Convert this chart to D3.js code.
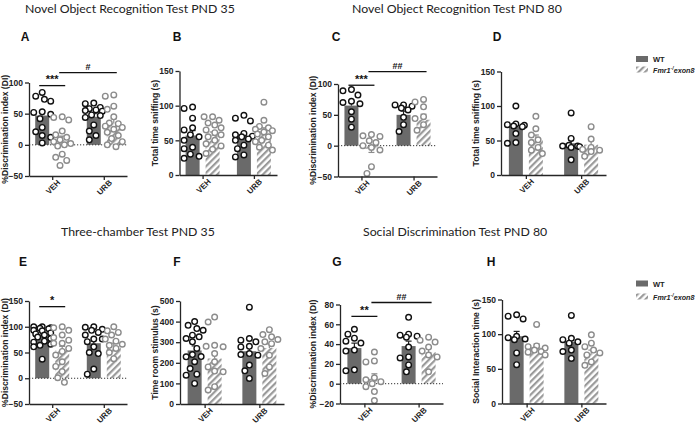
<!DOCTYPE html>
<html>
<head>
<meta charset="utf-8">
<script src="https://cdn.jsdelivr.net/npm/d3@7"></script>
<style>
  body { margin: 0; background: #fff; }
  svg text { font-family: "Liberation Sans", Arial, sans-serif; }
</style>
</head>
<body>
<svg id="chart" width="697" height="428"></svg>
<script>
// groups / genotypes
var groups = ["VEH", "URB"];
var genotypes = ["WT", "KO"];

// tick labels
var ticksDI = [-50, 0, 50, 100];
var ticksSniff = [0, 50, 100, 150];
var ticksDIE = [-50, 0, 50, 100, 150];
var ticksRoom = [0, 100, 200, 300, 400, 500];
var ticksDIG = [-20, 0, 20, 40, 60, 80];
var ticksSocial = [0, 50, 100, 150];

// A - NOR PND 35, discrimination index
var aWtVeh = [84, 78, 73, 70, 53, 52, 49, 42, 28, 21, 15, 12, 3];
var aKoVeh = [45, 44, 40, 22, 16, 12, 8, 5, 2, 0, -2, -15, -20, -25, -33];
var aWtUrb = [67, 66, 60, 58, 56, 55, 54, 48, 47, 44, 32, 22, 15, 8];
var aKoUrb = [80, 78, 62, 57, 45, 35, 34, 30, 28, 25, 20, 15, 10, 5, 0, -3];
var aMeans = [47, 8, 45, 35];
var aSem = [7, 6, 5, 7];

// B - NOR PND 35, total sniffing
var bWtVeh = [98, 96, 82, 68, 65, 58, 55, 50, 40, 38, 30, 27, 24];
var bKoVeh = [84, 84, 79, 75, 72, 68, 65, 61, 58, 55, 50, 45, 42, 37, 31];
var bWtUrb = [86, 82, 78, 60, 58, 56, 55, 52, 50, 43, 38, 29, 26];
var bKoUrb = [105, 79, 70, 68, 66, 64, 62, 59, 55, 50, 48, 43, 40, 36];
var bMeans = [57, 57, 56, 63];
var bSem = [7, 5, 5, 5];

// C - NOR PND 80, discrimination index
var cWtVeh = [91, 89, 82, 72, 70, 68, 55, 43, 30];
var cKoVeh = [18, 16, 15, 8, 5, 0, -3, -7, -34, -45];
var cWtUrb = [66, 66, 64, 61, 58, 46, 34, 23];
var cKoUrb = [75, 71, 63, 47, 44, 34, 25];
var cMeans = [65, -5, 50, 42];
var cSem = [7, 6, 6, 9];

// D - NOR PND 80, total sniffing
var dWtVeh = [100, 74, 73, 72, 71, 70, 60, 47, 46];
var dKoVeh = [85, 67, 58, 51, 47, 40, 36, 31];
var dWtUrb = [90, 53, 43, 42, 42, 41, 40, 22];
var dKoUrb = [70, 52, 40, 37, 36, 34, 27];
var dMeans = [70, 52, 46, 44];
var dSem = [5, 6, 7, 6];

// E - three-chamber PND 35, discrimination index
var eWtVeh = [100, 100, 98, 97, 96, 93, 92, 88, 86, 84, 80, 77, 72, 70, 66, 64, 61, 37];
var eKoVeh = [100, 98, 93, 84, 79, 74, 68, 68, 58, 52, 45, 32, 23, 13, 1, -8];
var eWtUrb = [100, 99, 95, 93, 89, 84, 76, 76, 71, 61, 50, 48, 18, 8];
var eKoUrb = [100, 92, 89, 84, 76, 72, 66, 64, 58, 50, 38];
var eMeans = [80, 54, 68, 62];
var eSem = [4, 8, 8, 6];

// F - three-chamber PND 35, time in stimulus room
var fWtVeh = [400, 382, 366, 358, 334, 326, 318, 302, 270, 240, 230, 229, 205, 172, 145, 140, 100];
var fKoVeh = [422, 398, 285, 280, 278, 245, 205, 180, 160, 156, 84, 68];
var fWtUrb = [470, 318, 310, 302, 280, 277, 245, 240, 237, 189, 161, 124];
var fKoUrb = [361, 337, 326, 313, 302, 293, 269, 237, 180, 148];
var fMeans = [260, 221, 256, 272];
var fSem = [22, 30, 25, 20];

// G - social discrimination PND 80, discrimination index
var gWtVeh = [55, 50, 46, 43, 41, 34, 33, 14, 13];
var gKoVeh = [32, 23, 22, 6, 4, 2, 0, -3, -8, -17];
var gWtUrb = [67, 50, 49, 48, 47, 37, 27, 26, 19, 12];
var gKoUrb = [47, 44, 42, 37, 33, 29, 27, 12];
var gMeans = [36, 5, 38, 32];
var gSem = [5, 5, 5, 4];

// H - social discrimination PND 80, interaction time
var hWtVeh = [128, 126, 122, 97, 95, 93, 92, 73, 56];
var hKoVeh = [114, 83, 82, 80, 77, 75, 74, 70];
var hWtUrb = [127, 94, 92, 89, 87, 77, 75, 65];
var hKoUrb = [99, 87, 82, 77, 73, 70, 60, 55];
var hMeans = [97, 81, 89, 72];
var hSem = [7, 5, 6, 5];

// significance bars: [from, to, y value, label]  (0 WT-VEH, 1 KO-VEH, 2 WT-URB, 3 KO-URB)
var sigA = [[0, 1, 95, "***"], [1, 3, 116, "#"]];
var sigC = [[0, 1, 98, "***"], [1, 3, 120, "##"]];
var sigE = [[0, 1, 139, "*"]];
var sigG = [[0, 1, 68, "**"], [1, 3, 82, "##"]];

var titles = [
  ["Novel Object Recognition Test PND 35", 25, 13],
  ["Novel Object Recognition Test PND 80", 352, 13],
  ["Three-chamber Test PND 35", 61, 236],
  ["Social Discrimination Test PND 80", 363, 236]
];

var panels = [
  {key: "A", lx: 25, tx: 8, x0: 29, x1: 127, yb: 176, yt: 82.5, dom: [-50, 100], ticks: ticksDI, yt2: "%Discrimination index (DI)",
   pts: [aWtVeh, aKoVeh, aWtUrb, aKoUrb], means: aMeans, sem: aSem, zero: true, sig: sigA, ly: 41},
  {key: "B", lx: 177, tx: 158, x0: 179.5, x1: 277, yb: 175, yt: 71, dom: [0, 150], ticks: ticksSniff, yt2: "Total time sniffing (s)",
   pts: [bWtVeh, bKoVeh, bWtUrb, bKoUrb], means: bMeans, sem: bSem, zero: false, sig: [], ly: 41},
  {key: "C", lx: 336, tx: 316, x0: 338, x1: 437, yb: 176.5, yt: 84, dom: [-50, 100], ticks: ticksDI, yt2: "%Discrimination index (DI)",
   pts: [cWtVeh, cKoVeh, cWtUrb, cKoUrb], means: cMeans, sem: cSem, zero: true, sig: sigC, ly: 41},
  {key: "D", lx: 497, tx: 479, x0: 501, x1: 606, yb: 175, yt: 71.5, dom: [0, 150], ticks: ticksSniff, yt2: "Total time sniffing (s)",
   pts: [dWtVeh, dKoVeh, dWtUrb, dKoUrb], means: dMeans, sem: dSem, zero: false, sig: [], ly: 41},
  {key: "E", lx: 23, tx: 8, x0: 29, x1: 127, yb: 404, yt: 301, dom: [-50, 150], ticks: ticksDIE, yt2: "%Discrimination index (DI)",
   pts: [eWtVeh, eKoVeh, eWtUrb, eKoUrb], means: eMeans, sem: eSem, zero: true, sig: sigE, ly: 266},
  {key: "F", lx: 177, tx: 158, x0: 180, x1: 284, yb: 404, yt: 301, dom: [0, 500], ticks: ticksRoom, yt2: "Time room stimulus (s)",
   pts: [fWtVeh, fKoVeh, fWtUrb, fKoUrb], means: fMeans, sem: fSem, zero: false, sig: [], ly: 266},
  {key: "G", lx: 337, tx: 316, x0: 340, x1: 443, yb: 403.5, yt: 304.5, dom: [-20, 80], ticks: ticksDIG, yt2: "%Discrimination index (DI)",
   pts: [gWtVeh, gKoVeh, gWtUrb, gKoUrb], means: gMeans, sem: gSem, zero: true, sig: sigG, ly: 266},
  {key: "H", lx: 491, tx: 479, x0: 502, x1: 606, yb: 403.5, yt: 299.5, dom: [0, 150], ticks: ticksSocial, yt2: "Social Interaction time (s)",
   pts: [hWtVeh, hKoVeh, hWtUrb, hKoUrb], means: hMeans, sem: hSem, zero: false, sig: [], ly: 266}
];

var wtFill = "#6a6a6a", koStroke = "#8c8c8c", axisCol = "#262626";
var svg = d3.select("#chart");

// hatch for the knockout bars
var defs = svg.append("defs");
var pat = defs.append("pattern")
    .attr("id", "hatch")
    .attr("patternUnits", "userSpaceOnUse")
    .attr("width", 4.6).attr("height", 4.6)
    .attr("patternTransform", "rotate(45)");
pat.append("rect").attr("width", 4.6).attr("height", 4.6).attr("fill", "#fff");
pat.append("rect").attr("x", 0).attr("width", 2.2).attr("height", 4.6).attr("fill", "#9a9a9a");

// titles: one size, fitted to the width of the first one (~210px)
var titleSel = svg.selectAll(".title").data(titles).enter().append("text")
    .attr("class", "title")
    .attr("x", function (d) { return d[1]; })
    .attr("y", function (d) { return d[2]; })
    .style("font-family", "Lato, 'Open Sans', sans-serif")
    .style("font-size", "14px")
    .attr("fill", "#222")
    .text(function (d) { return d[0]; });
var w0 = titleSel.node().getComputedTextLength();
titleSel.style("font-size", (14 * 210 / w0).toFixed(2) + "px");

// lay points out like a swarm so overlapping values spread sideways
function swarm(vals, cx, y, r) {
  var placed = [];
  var offs = [0, -4.5, 4.5, -8.5, 8.5, -2.2, 2.2, -6.5, 6.5];
  vals.slice().sort(function (a, b) { return b - a; }).forEach(function (v) {
    var py = y(v), best = 0, bestCost = Infinity;
    offs.forEach(function (o) {
      var cost = Math.abs(o) * 0.02;
      placed.forEach(function (p) {
        var d = Math.hypot(p.x - (cx + o), p.y - py);
        if (d < 2 * r + 1.6) cost += (2 * r + 1.6 - d);
      });
      if (cost < bestCost - 1e-9) { bestCost = cost; best = o; }
    });
    placed.push({x: cx + best, y: py});
  });
  return placed;
}

panels.forEach(function (p) {
  var g = svg.append("g");
  var y = d3.scaleLinear().domain(p.dom).range([p.yb, p.yt]);
  var x = d3.scalePoint().domain(groups).range([p.x0, p.x1]).padding(0.45);
  var inner = d3.scaleBand().domain(genotypes).range([-17, 17]).paddingInner(0.3);
  var bw = inner.bandwidth();

  function barX(i) { return x(groups[Math.floor(i / 2)]) + inner(genotypes[i % 2]); }
  function barC(i) { return barX(i) + bw / 2; }

  // bars
  p.means.forEach(function (m, i) {
    g.append("rect")
        .attr("x", barX(i)).attr("width", bw)
        .attr("y", y(Math.max(0, m)))
        .attr("height", Math.abs(y(m) - y(0)))
        .attr("fill", i % 2 === 0 ? wtFill : "url(#hatch)");
  });

  // dotted zero line
  if (p.zero) {
    g.append("line")
        .attr("x1", p.x0).attr("x2", p.x1)
        .attr("y1", y(0)).attr("y2", y(0))
        .attr("stroke", "#333").attr("stroke-width", 1)
        .attr("stroke-dasharray", "1.2,1.8");
  }

  // error bars (mean +/- sem, away from zero)
  p.means.forEach(function (m, i) {
    var e = m + (m < 0 ? -p.sem[i] : p.sem[i]);
    var col = i % 2 === 0 ? "#222" : koStroke;
    g.append("line").attr("x1", barC(i)).attr("x2", barC(i))
        .attr("y1", y(m)).attr("y2", y(e))
        .attr("stroke", col).attr("stroke-width", 1.2);
    g.append("line").attr("x1", barC(i) - 3).attr("x2", barC(i) + 3)
        .attr("y1", y(e)).attr("y2", y(e))
        .attr("stroke", col).attr("stroke-width", 1.2);
  });

  // individual animals
  p.pts.forEach(function (vals, i) {
    var dots = swarm(vals, barC(i), y, 2.8);
    g.selectAll(null).data(dots).enter().append("circle")
        .attr("cx", function (d) { return d.x; })
        .attr("cy", function (d) { return d.y; })
        .attr("r", 2.8)
        .attr("fill", "#fff")
        .attr("stroke", i % 2 === 0 ? "#111" : koStroke)
        .attr("stroke-width", 1.4);
  });

  // axes
  var ya = g.append("g")
      .attr("transform", "translate(" + p.x0 + ",0)")
      .call(d3.axisLeft(y).tickValues(p.ticks).tickSize(4).tickSizeOuter(0).tickPadding(2));
  var xa = g.append("g")
      .attr("transform", "translate(0," + p.yb + ")")
      .call(d3.axisBottom(x).tickSize(4).tickSizeOuter(0).tickPadding(2));
  [ya, xa].forEach(function (a) {
    a.select(".domain").attr("stroke", axisCol).attr("stroke-width", 1.3);
    a.selectAll(".tick line").attr("stroke", axisCol).attr("stroke-width", 1.3);
    a.selectAll("text")
        .style("font-family", "'Liberation Sans', Arial, sans-serif")
        .style("font-size", "8.5px").style("font-weight", "bold").attr("fill", "#222");
  });
  xa.selectAll(".tick text")
      .style("font-size", "8px")
      .attr("text-anchor", "end")
      .attr("dy", "0.35em")
      .attr("transform", "translate(2,1) rotate(-45)");

  // y title
  g.append("text")
      .attr("transform", "translate(" + p.tx + "," + ((p.yb + p.yt) / 2) + ") rotate(-90)")
      .attr("text-anchor", "middle")
      .style("font-size", "8.6px").style("font-weight", "bold")
      .attr("fill", "#222")
      .text(p.yt2);

  // panel letter
  g.append("text")
      .attr("x", p.lx).attr("y", p.ly)
      .attr("text-anchor", "middle")
      .style("font-size", "12px").style("font-weight", "bold")
      .attr("fill", "#111")
      .text(p.key);

  // significance
  p.sig.forEach(function (s) {
    var yy = y(s[2]);
    g.append("line").attr("x1", barC(s[0]) - 3).attr("x2", barC(s[1]) + 3)
        .attr("y1", yy).attr("y2", yy)
        .attr("stroke", "#111").attr("stroke-width", 1.3);
    g.append("text")
        .attr("x", (barC(s[0]) + barC(s[1])) / 2).attr("y", yy - 2.5)
        .attr("text-anchor", "middle")
        .style("font-size", s[3].charAt(0) === "*" ? "11px" : "9px").style("font-weight", "bold")
        .attr("fill", "#111")
        .text(s[3]);
  });
});

// legends
[[59, 69.5], [283.5, 296.5]].forEach(function (ly) {
  var lg = svg.append("g");
  lg.append("rect").attr("x", 636).attr("y", ly[0] - 3).attr("width", 12).attr("height", 6).attr("fill", wtFill);
  lg.append("rect").attr("x", 636).attr("y", ly[1] - 3).attr("width", 12).attr("height", 6).attr("fill", "url(#hatch)");
  lg.append("text").attr("x", 653).attr("y", ly[0] + 3)
      .style("font-size", "7.5px").style("font-weight", "bold").attr("fill", "#222").text("WT");
  var t = lg.append("text").attr("x", 653).attr("y", ly[1] + 3)
      .style("font-size", "7.2px").style("font-weight", "bold").style("font-style", "italic").attr("fill", "#222");
  t.append("tspan").text("Fmr1");
  t.append("tspan").attr("dy", -3).style("font-size", "5px").text("-/");
  t.append("tspan").attr("dy", 3).text("exon8");
});
</script>
</body>
</html>
